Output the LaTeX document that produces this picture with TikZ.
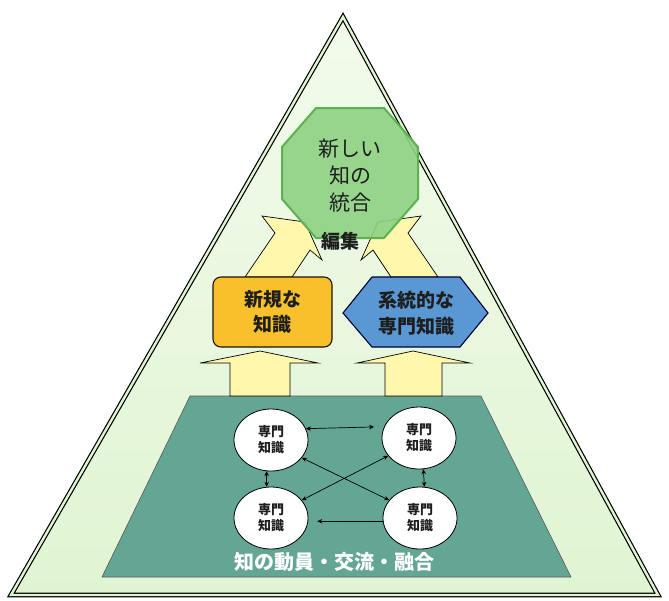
\documentclass[tikz,border=0pt]{standalone}
\usepackage{fontspec}
\newfontfamily\jp{Noto Sans CJK JP}
\usetikzlibrary{arrows.meta,shapes.geometric}
\definecolor{trifill}{RGB}{224,244,210}
\definecolor{tritop}{RGB}{242,251,236}
\definecolor{teal2}{RGB}{100,166,148}
\definecolor{yel}{RGB}{255,248,172}
\definecolor{orng}{RGB}{248,193,44}
\definecolor{blu}{RGB}{90,152,212}
\definecolor{octfill}{RGB}{142,210,132}
\definecolor{octline}{RGB}{92,178,80}
\definecolor{ink}{RGB}{30,30,30}
\begin{document}
\begin{tikzpicture}[x=1pt,y=-1pt,
  jtext/.style={align=center, inner sep=0pt, text=ink},
  ell/.style={ellipse, draw=black, line width=0.8pt, fill=white, minimum width=74pt, minimum height=62pt,
    font=\jp\bfseries\fontsize{13}{16}\selectfont, align=center, inner sep=0pt, text=ink},
  link/.style={{Stealth[length=5pt,width=4.5pt]}-{Stealth[length=5pt,width=4.5pt]}, line width=0.7pt},
  blockarrow/.style={fill=yel, draw=black, line width=0.7pt, line join=miter}
]
\useasboundingbox (0,0) rectangle (669,600);
% outer triangle
\coordinate (apex) at (343,17);
\coordinate (bl) at (11,595);
\coordinate (br) at (658,595);
\fill[top color=tritop, bottom color=trifill] (apex) -- (bl) -- (br) -- cycle;
\draw[line width=1.2pt, double distance=2.4pt, double=trifill, line join=miter] (apex) -- (bl) -- (br) -- cycle;
% teal trapezoid
\draw[fill=teal2, draw=black!65, line width=0.6pt] (190,396) -- (481,396) -- (571,577) -- (102,577) -- cycle;
% lower block arrows
\draw[blockarrow] (230,396) -- (230,363) -- (200,363) -- (260,351) -- (318,363) -- (290,363) -- (290,396) -- cycle;
\draw[blockarrow] (385,396) -- (385,363) -- (357,363) -- (413,351) -- (470,363) -- (442,363) -- (442,396) -- cycle;
% upper block arrows
\draw[blockarrow] (245,277) -- (275,233) -- (262,216) -- (305,222) -- (322,260) -- (310,250) -- (292,277) -- cycle;
\draw[blockarrow] (438,277) -- (408,233) -- (421,216) -- (378,222) -- (361,260) -- (373,250) -- (391,277) -- cycle;
% orange box
\node[draw=black!85!brown, fill=orng, rounded corners=8pt, minimum width=119pt, minimum height=70pt,
  line width=1.1pt, jtext, font=\jp\bfseries\fontsize{19}{25}\selectfont] (nk) at (272.5,312) {新規な\\知識};
% blue hexagon
\draw[fill=blu, draw=black!80!blue, line width=1.1pt, line join=miter] (343,313) -- (372,277) -- (460,277) -- (488,313) -- (460,347) -- (372,347) -- cycle;
\node[jtext, font=\jp\bfseries\fontsize{19}{26}\selectfont] (sk) at (416,313) {系統的な\\専門知識};
% octagon
\draw[fill=octfill, fill opacity=0.9, draw=octline, line width=2pt, line join=round]
  (316,108) -- (384,108) -- (418,147) -- (418,199) -- (384,238) -- (316,238) -- (282,199) -- (282,147) -- cycle;
\node[jtext, font=\jp\fontsize{21}{27}\selectfont] (oct) at (350,176) {新しい\\知の\\統合};
\node[jtext, font=\jp\bfseries\fontsize{19}{22}\selectfont] (hen) at (340,241) {編集};
% ellipses
\node[ell] (tl) at (271,440) {専門\\知識};
\node[ell] (tr) at (419,438) {専門\\知識};
\node[ell] (bl2) at (271,518) {専門\\知識};
\node[ell] (br2) at (420,518) {専門\\知識};
\draw[link, shorten >=10pt] (tl.18) -- (tr.162);
\draw[link] (tl.-98) -- (bl2.98);
\draw[link] (tr.-82) -- (br2.82);
\draw[link] (tl.-30) -- (br2.150);
\draw[link] (tr.-150) -- (bl2.30);
\draw[-{Stealth[length=5pt,width=4.5pt]}, line width=0.7pt, shorten >=9pt] (br2.185) -- (bl2.-5);
% label
\node[inner sep=0pt, text=white, font=\jp\bfseries\fontsize{20}{22}\selectfont] (lab) at (334,562) {知の動員・交流・融合};
\end{tikzpicture}
\end{document}
